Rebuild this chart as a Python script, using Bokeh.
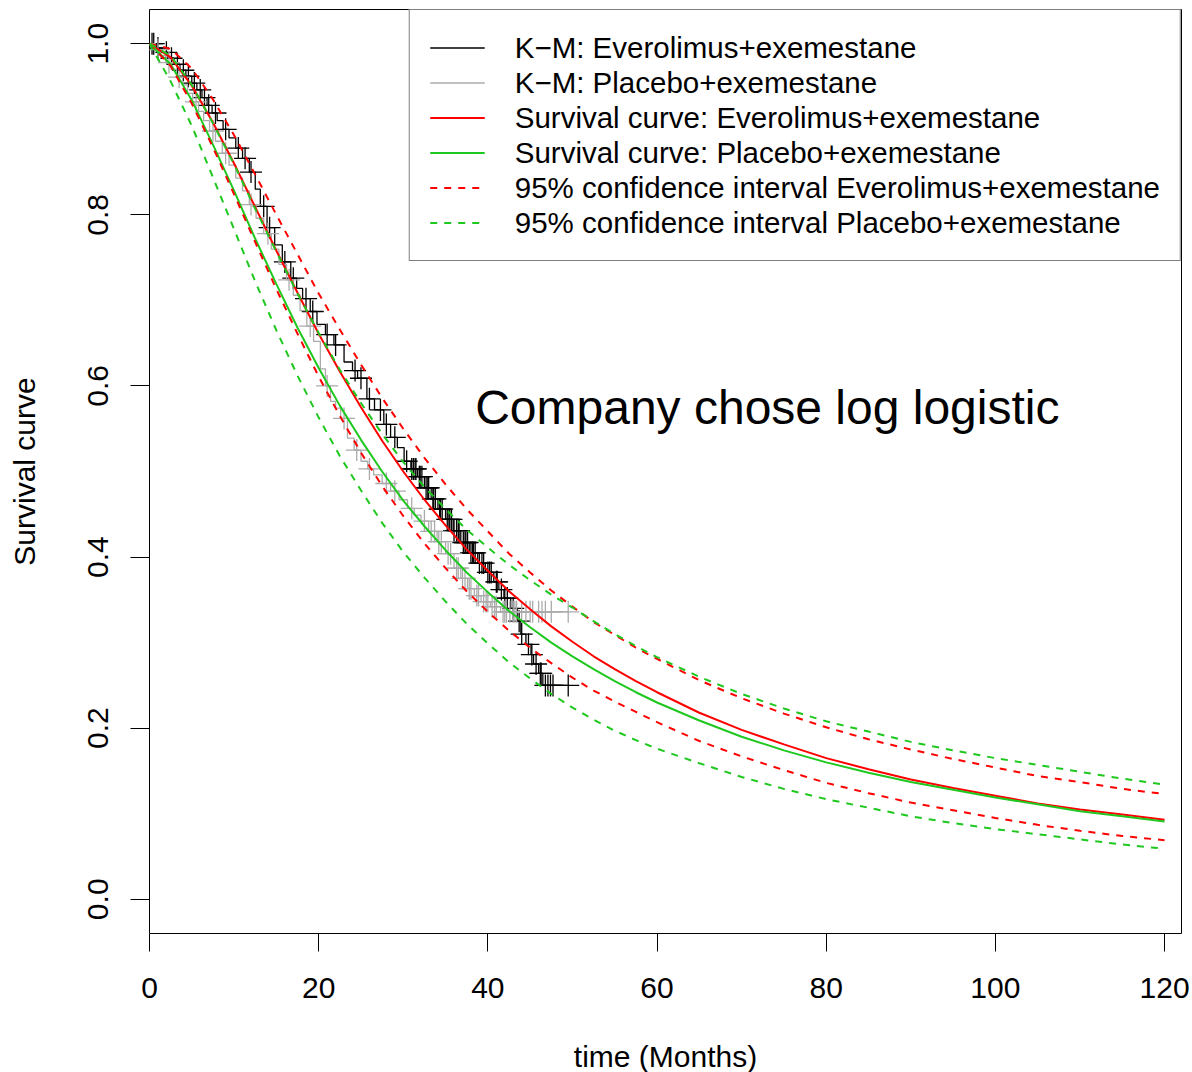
from bokeh.plotting import figure
from bokeh.models import Legend, LegendItem, Label, FixedTicker, PrintfTickFormatter, Range1d
from bokeh.embed import file_html
from bokeh.resources import INLINE

# ---- fitted log-logistic curves and 95% CI bands (time in months) ----
fit_time = [0, 2.5, 5, 7.5, 10, 12.5, 15, 17.5, 20, 22.5, 25, 27.5, 30, 32.5, 35, 37.5, 40,
            42.5, 45, 47.5, 50, 52.5, 55, 57.5, 60, 65, 70, 75, 80, 85, 90, 95, 100, 105,
            110, 115, 120]
eve_fit = [1.0, 0.984, 0.951, 0.908, 0.860, 0.809, 0.758, 0.709, 0.661, 0.617, 0.575, 0.536,
           0.500, 0.467, 0.437, 0.409, 0.384, 0.360, 0.339, 0.319, 0.301, 0.284, 0.269, 0.255,
           0.242, 0.218, 0.198, 0.181, 0.165, 0.152, 0.140, 0.130, 0.121, 0.112, 0.105, 0.099,
           0.093]
eve_hi = [1.0, 0.994, 0.971, 0.935, 0.893, 0.847, 0.800, 0.754, 0.708, 0.666, 0.625, 0.586,
          0.550, 0.516, 0.485, 0.456, 0.430, 0.404, 0.382, 0.361, 0.342, 0.324, 0.309, 0.294,
          0.281, 0.256, 0.235, 0.217, 0.201, 0.187, 0.175, 0.164, 0.154, 0.144, 0.137, 0.129,
          0.123]
eve_lo = [1.0, 0.974, 0.930, 0.879, 0.824, 0.768, 0.713, 0.661, 0.611, 0.565, 0.522, 0.483,
          0.448, 0.416, 0.387, 0.360, 0.336, 0.314, 0.294, 0.276, 0.259, 0.244, 0.231, 0.219,
          0.207, 0.185, 0.167, 0.151, 0.136, 0.124, 0.113, 0.104, 0.095, 0.087, 0.080, 0.074,
          0.069]
pla_fit = [1.0, 0.976, 0.934, 0.882, 0.828, 0.772, 0.719, 0.668, 0.621, 0.577, 0.537, 0.500,
           0.466, 0.436, 0.408, 0.382, 0.359, 0.337, 0.318, 0.300, 0.284, 0.269, 0.255, 0.242,
           0.230, 0.209, 0.190, 0.174, 0.160, 0.148, 0.137, 0.128, 0.119, 0.111, 0.103, 0.097,
           0.091]
pla_hi = [1.0, 0.986, 0.952, 0.907, 0.859, 0.807, 0.757, 0.708, 0.662, 0.619, 0.580, 0.544,
          0.511, 0.482, 0.456, 0.432, 0.411, 0.391, 0.373, 0.356, 0.341, 0.325, 0.310, 0.296,
          0.283, 0.260, 0.240, 0.223, 0.208, 0.196, 0.184, 0.174, 0.165, 0.157, 0.149, 0.141,
          0.134]
pla_lo = [1.0, 0.956, 0.904, 0.844, 0.783, 0.722, 0.665, 0.612, 0.563, 0.518, 0.478, 0.440,
          0.406, 0.376, 0.348, 0.322, 0.299, 0.277, 0.258, 0.240, 0.224, 0.210, 0.197, 0.186,
          0.176, 0.159, 0.143, 0.129, 0.117, 0.107, 0.097, 0.089, 0.082, 0.076, 0.070, 0.064,
          0.059]

# ---- Kaplan-Meier: Everolimus+exemestane (event times, survival after event) ----
km_eve_t = [0, 0.8, 1.5, 2.2, 2.9, 3.6, 4.3, 5.0, 5.6, 6.2, 6.8, 7.4, 8.0, 8.7, 9.4, 10.2, 11.0,
            11.8, 12.5, 13.1, 13.9, 14.8, 15.7, 16.7, 17.4, 18.1, 19.0, 19.8, 20.8, 21.8, 23.0,
            24.0, 24.6, 25.7, 26.6, 27.7, 28.5, 29.3, 30.1, 30.9, 31.7, 32.5, 33.3, 34.1, 35.0,
            35.9, 36.8, 37.8, 38.8, 39.7, 40.7, 41.3, 41.9, 42.7, 43.5, 43.9, 44.5, 45.1, 45.4,
            46.0, 46.5]
km_eve_s = [1.0, 0.995, 0.99, 0.983, 0.976, 0.969, 0.962, 0.954, 0.946, 0.937, 0.928, 0.919, 0.91,
            0.9, 0.89, 0.878, 0.866, 0.85, 0.83, 0.81, 0.785, 0.765, 0.745, 0.726, 0.714, 0.702,
            0.687, 0.672, 0.66, 0.648, 0.628, 0.618, 0.609, 0.585, 0.572, 0.555, 0.54, 0.528,
            0.512, 0.503, 0.494, 0.481, 0.468, 0.456, 0.444, 0.431, 0.417, 0.405, 0.393, 0.382,
            0.371, 0.362, 0.352, 0.34, 0.325, 0.31, 0.298, 0.286, 0.275, 0.264, 0.25]
km_eve_cens = [0.3, 0.5, 1.0, 2.0, 2.6, 3.3, 4.0, 4.6, 5.3, 6.0, 6.5, 7.0, 7.8, 9.0, 10.5, 11.3,
               12.0, 13.5, 14.2, 16.0, 17.0, 18.5, 19.3, 21.0, 22.0, 24.3, 25.0, 26.0, 27.3, 28.0,
               29.0, 30.4, 31.0, 31.2, 31.4, 31.5, 31.9, 32.0, 32.2, 32.7, 32.9, 33.0, 33.5, 33.6,
               33.8, 34.3, 34.4, 34.6, 35.2, 35.4, 35.5, 35.7, 36.0, 36.3, 36.5, 36.6, 37.1, 37.3,
               37.4, 37.6, 38.0, 38.2, 38.3, 38.5, 39.0, 39.3, 39.5, 40.0, 40.2, 40.4, 41.0, 41.1,
               41.6, 42.0, 42.3, 43.0, 43.7, 44.0, 44.8, 45.2, 45.7, 46.2, 46.3, 46.8, 47.1, 47.4,
               47.7, 49.5]

# ---- Kaplan-Meier: Placebo+exemestane ----
km_pla_t = [0, 0.7, 1.3, 2.0, 2.6, 3.2, 3.9, 4.5, 5.1, 5.8, 6.4, 7.1, 7.8, 8.6, 9.4, 10.2, 11.0,
            11.8, 12.6, 13.5, 14.4, 15.3, 16.2, 17.0, 17.8, 18.6, 19.4, 20.2, 20.8, 21.4, 22.0,
            22.6, 23.4, 24.2, 25.0, 25.8, 26.5, 27.5, 28.5, 29.5, 30.5, 31.3, 32.1, 33.0, 34.0,
            35.0, 36.0, 36.8, 37.6, 38.4, 39.2, 40.3, 41.5]
km_pla_s = [1.0, 0.993, 0.986, 0.978, 0.97, 0.961, 0.952, 0.942, 0.932, 0.921, 0.91, 0.898, 0.886,
            0.872, 0.858, 0.843, 0.828, 0.812, 0.796, 0.778, 0.76, 0.742, 0.724, 0.706, 0.688,
            0.67, 0.652, 0.62, 0.60, 0.582, 0.574, 0.562, 0.539, 0.525, 0.512, 0.503, 0.496,
            0.486, 0.477, 0.467, 0.457, 0.449, 0.442, 0.43, 0.418, 0.404, 0.387, 0.375, 0.363,
            0.355, 0.348, 0.342, 0.336]
km_pla_cens = [1.0, 2.3, 3.5, 5.5, 7.5, 9.0, 12.0, 14.0, 16.5, 19.0, 21.0, 23.0, 24.5, 26.0, 28.0,
               29.0, 31.0, 32.5, 33.3, 33.7, 34.2, 34.5, 35.3, 35.6, 36.3, 36.5, 37.0, 37.3, 37.8,
               38.0, 38.7, 38.9, 39.5, 39.8, 40.0, 40.5, 40.8, 41.0, 41.8, 42.0, 42.2, 42.6, 43.0,
               43.2, 43.4, 44.0, 44.5, 45.0, 45.3, 46.0, 46.4, 46.8, 47.5, 49.5]

x_ticks = [0, 20, 40, 60, 80, 100, 120]
y_ticks = [0.0, 0.2, 0.4, 0.6, 0.8, 1.0]

FONT = "Liberation Sans"
RED = "#FF0000"
GREEN = "#1FC81F"
GREY = "#ABABAB"


def surv_at(times, surv, t):
    s = surv[0]
    for ti, si in zip(times, surv):
        if ti <= t:
            s = si
    return s


p = figure(frame_width=1032, frame_height=924,
           x_range=Range1d(0, 122), y_range=Range1d(-0.04, 1.04),
           output_backend="svg", toolbar_location=None,
           min_border_left=149, min_border_right=11,
           min_border_top=9, min_border_bottom=139,
           background_fill_color="white", border_fill_color="white")
p.grid.visible = False
p.outline_line_color = "black"
p.outline_line_width = 1

for ax in (p.xaxis[0], p.yaxis[0]):
    ax.axis_line_color = None
    ax.minor_tick_line_color = None
    ax.major_tick_in = 0
    ax.major_tick_line_color = "black"
    ax.major_tick_line_width = 1
    ax.major_label_text_font = FONT
    ax.major_label_text_font_size = "30px"
    ax.major_label_text_color = "black"
    ax.axis_label_text_font = FONT
    ax.axis_label_text_font_size = "30px"
    ax.axis_label_text_font_style = "normal"
    ax.axis_label_text_color = "black"

p.xaxis.ticker = FixedTicker(ticks=x_ticks)
p.xaxis.major_tick_out = 18
p.xaxis.major_label_standoff = 26
p.xaxis.axis_label = "time (Months)"
p.xaxis.axis_label_standoff = 39

p.yaxis.ticker = FixedTicker(ticks=y_ticks)
p.yaxis.formatter = PrintfTickFormatter(format="%.1f")
p.yaxis.major_tick_out = 19
p.yaxis.major_label_orientation = "vertical"
p.yaxis.major_label_standoff = 22
p.yaxis.axis_label = "Survival curve"
p.yaxis.axis_label_standoff = 45

# Kaplan-Meier step curves, extended to the last censored time
eve_x = km_eve_t + [km_eve_cens[-1]]
eve_y = km_eve_s + [km_eve_s[-1]]
pla_x = km_pla_t + [km_pla_cens[-1]]
pla_y = km_pla_s + [km_pla_s[-1]]

r_km_eve = p.step(eve_x, eve_y, mode="after", line_color="black", line_width=1.3)
p.scatter(km_eve_cens, [surv_at(km_eve_t, km_eve_s, t) for t in km_eve_cens],
          marker="cross", size=22, line_color="black", line_width=1.3)
r_km_pla = p.step(pla_x, pla_y, mode="after", line_color=GREY, line_width=1.3)
p.scatter(km_pla_cens, [surv_at(km_pla_t, km_pla_s, t) for t in km_pla_cens],
          marker="cross", size=22, line_color=GREY, line_width=1.3)

# fitted survival curves and confidence limits
r_fit_eve = p.line(fit_time, eve_fit, line_color=RED, line_width=2)
r_fit_pla = p.line(fit_time, pla_fit, line_color=GREEN, line_width=2)
r_ci_eve = p.line(fit_time, eve_hi, line_color=RED, line_width=2, line_dash="7 7")
p.line(fit_time, eve_lo, line_color=RED, line_width=2, line_dash="7 7")
r_ci_pla = p.line(fit_time, pla_hi, line_color=GREEN, line_width=2, line_dash="7 7")
p.line(fit_time, pla_lo, line_color=GREEN, line_width=2, line_dash="7 7")

legend = Legend(items=[
    LegendItem(label="K\u2212M: Everolimus+exemestane", renderers=[r_km_eve]),
    LegendItem(label="K\u2212M: Placebo+exemestane", renderers=[r_km_pla]),
    LegendItem(label="Survival curve: Everolimus+exemestane", renderers=[r_fit_eve]),
    LegendItem(label="Survival curve: Placebo+exemestane", renderers=[r_fit_pla]),
    LegendItem(label="95% confidence interval Everolimus+exemestane", renderers=[r_ci_eve]),
    LegendItem(label="95% confidence interval Placebo+exemestane", renderers=[r_ci_pla]),
], location="top_right")
legend.margin = 0
legend.padding = 20
legend.spacing = 0
legend.glyph_width = 55
legend.glyph_height = 35
legend.label_height = 35
legend.label_standoff = 30
legend.label_text_font = FONT
legend.label_text_font_size = "29.5px"
legend.label_text_color = "black"
legend.border_line_color = "black"
legend.border_line_width = 1
legend.background_fill_color = "white"
legend.background_fill_alpha = 1.0
p.add_layout(legend)

p.add_layout(Label(x=38.5, y=0.575, text="Company chose log logistic",
                   text_font=FONT, text_font_size="48px", text_color="black",
                   text_baseline="alphabetic", text_align="left"))

open("out.html", "w").write(file_html(p, INLINE))
